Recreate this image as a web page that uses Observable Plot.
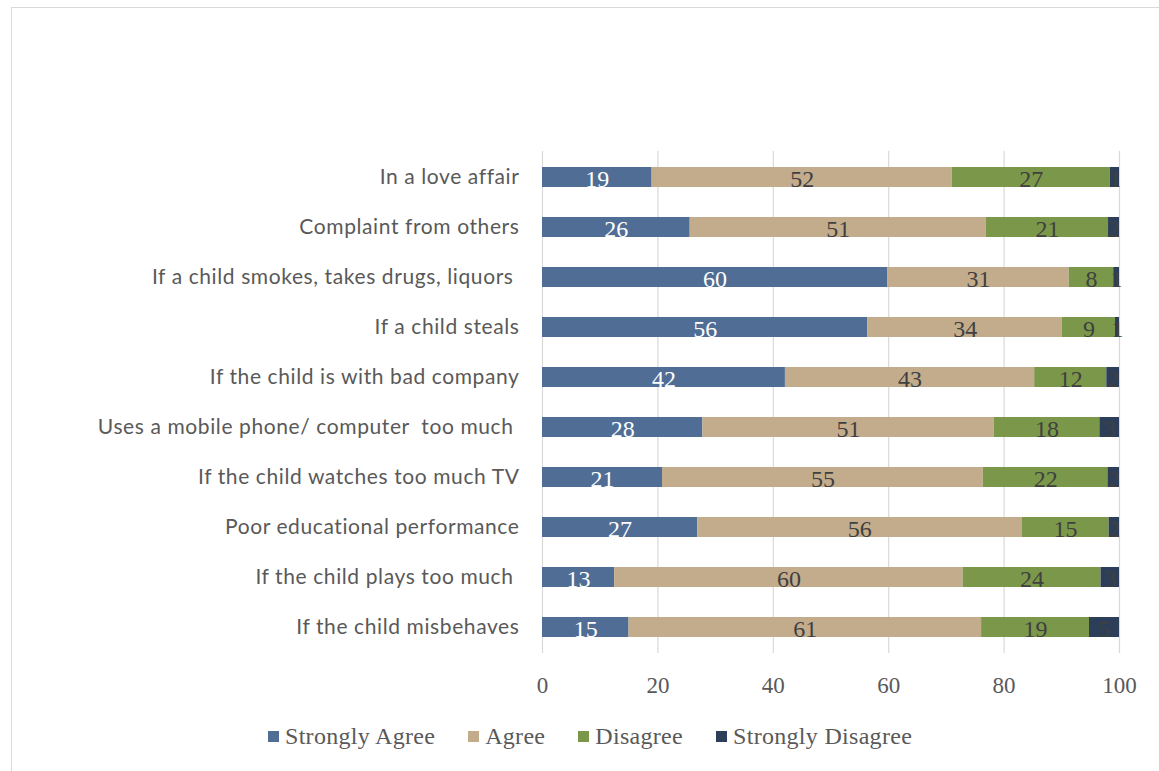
<!DOCTYPE html>
<html>
<head>
<meta charset="utf-8">
<script src="https://cdn.jsdelivr.net/npm/d3@7"></script>
<script src="https://cdn.jsdelivr.net/npm/@observablehq/plot@0.6"></script>
<style>
  html, body { margin: 0; padding: 0; background: #fff; width: 1159px; height: 771px; overflow: hidden; }
  #frame { position: absolute; left: 11px; top: 7px; width: 1160px; height: 780px; border-left: 1px solid #d9d9d9; border-top: 1px solid #d9d9d9; }
  #chart { position: absolute; left: 0; top: 0; }
  #legend { position: absolute; left: 268px; top: 723px; display: flex; align-items: center; font-family: "Liberation Serif", serif; font-size: 24px; letter-spacing: 0.3px; color: #595959; white-space: nowrap; }
  #legend .item { display: flex; align-items: center; margin-right: 33px; }
  #legend .sw { width: 11px; height: 11px; margin-right: 6px; }
</style>
</head>
<body>
<div id="frame"></div>
<div id="chart"></div>
<div id="legend"></div>
<script>
const categories = [
  "In a love affair",
  "Complaint from others",
  "If a child smokes, takes drugs, liquors ",
  "If a child steals",
  "If the child is with bad company",
  "Uses a mobile phone/ computer  too much ",
  "If the child watches too much TV",
  "Poor educational performance",
  "If the child plays too much ",
  "If the child misbehaves"
];
const series = ["Strongly Agree", "Agree", "Disagree", "Strongly Disagree"];
const stronglyAgree    = [19.0, 25.6, 59.8, 56.4, 42.1, 27.8, 20.8, 26.9, 12.5, 15.0];
const agree            = [52.0, 51.3, 31.5, 33.7, 43.2, 50.5, 55.6, 56.2, 60.4, 61.1];
const disagree         = [27.4, 21.2,  7.7,  9.2, 12.5, 18.3, 21.6, 15.1, 23.9, 18.7];
const stronglyDisagree = [ 1.6,  1.9,  1.0,  0.7,  2.2,  3.4,  2.0,  1.8,  3.2,  5.2];
const barLabels = {
  "Strongly Agree":    [19, 26, 60, 56, 42, 28, 21, 27, 13, 15],
  "Agree":             [52, 51, 31, 34, 43, 51, 55, 56, 60, 61],
  "Disagree":          [27, 21,  8,  9, 12, 18, 22, 15, 24, 19],
  "Strongly Disagree": [ 1,  2,  1,  1,  2,  3,  2,  2,  3,  5]
};
const xTicks = [0, 20, 40, 60, 80, 100];
const colors = ["#506e95", "#c3ac8c", "#7b984a", "#2d3e58"];
const labelColors = ["#ffffff", "#404040", "#404040", "#404040"];

const seriesValues = [stronglyAgree, agree, disagree, stronglyDisagree];
const data = [];
series.forEach((s, si) => {
  categories.forEach((c, ci) => {
    data.push({category: c, series: s, value: seriesValues[si][ci], label: String(barLabels[s][ci]), lc: labelColors[si]});
  });
});

const chart = Plot.plot({
  width: 1159,
  height: 715,
  marginLeft: 542,
  marginRight: 40,
  marginTop: 151,
  marginBottom: 62,
  style: {background: "transparent", overflow: "visible"},
  x: {domain: [0, 100], ticks: xTicks, label: null},
  y: {domain: categories, paddingInner: 0.6, paddingOuter: 0.3, label: null},
  color: {domain: series, range: colors},
  marks: [
    Plot.gridX(xTicks, {stroke: "#d9d9d9", strokeOpacity: 1, strokeWidth: 1.2}),
    Plot.barX(data, Plot.stackX({x: "value", y: "category", fill: "series", order: series, insetTop: 0, insetBottom: 0})),
    Plot.text(data, Plot.stackX({x: "value", y: "category", z: "series", order: series, text: "label", fill: "lc",
      fontFamily: "Liberation Serif, serif", fontSize: 24, textAnchor: "middle", dy: 1.5})),
    Plot.axisX({ticks: xTicks, tickSize: 0, tickPadding: 23, fontSize: 23, fontFamily: "Liberation Serif, serif", color: "#595959", label: null}),
    Plot.axisY({tickSize: 0, tickPadding: 23, fontSize: 21, fontFamily: "Lato, sans-serif", color: "#595959", label: null})
  ]
});
chart.querySelectorAll("text").forEach(t => { t.setAttribute("xml:space", "preserve"); t.style.whiteSpace = "pre"; });
chart.querySelectorAll("[aria-label='y-axis tick label'] text").forEach(t => t.style.letterSpacing = "0.6px");
document.getElementById("chart").appendChild(chart);

const legend = document.getElementById("legend");
series.forEach((s, i) => {
  const item = document.createElement("div");
  item.className = "item";
  const sw = document.createElement("span");
  sw.className = "sw";
  sw.style.background = colors[i];
  const tx = document.createElement("span");
  tx.textContent = s;
  item.appendChild(sw); item.appendChild(tx);
  legend.appendChild(item);
});
</script>
</body>
</html>
